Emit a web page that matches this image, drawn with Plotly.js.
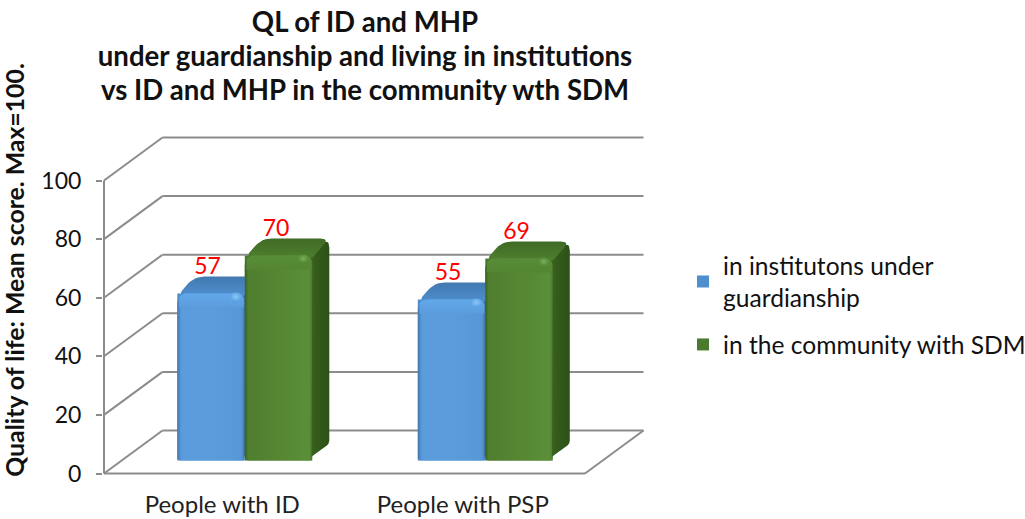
<!DOCTYPE html>
<html><head><meta charset="utf-8">
<script src="https://cdn.plot.ly/plotly-3.0.1.min.js"></script>
<style>html,body{margin:0;padding:0;background:#fff}</style></head>
<body><div id="chart" style="width:1025px;height:519px"></div>
<script>
const categories = ["People with ID", "People with PSP"];
const categoryPositions = [0.5, 1.5];
const institutionValues = [57, 55];
const communityValues = [70, 69];
const seriesNames = ["in institutons under<br>guardianship", "in the community with SDM"];
const yTicks = [0, 20, 40, 60, 80, 100];
const titleLines = ["QL of ID and MHP", "under guardianship and living in institutions", "vs ID and MHP in the community wth SDM"];
const yTitle = "Quality of life: Mean score. Max=100.";

const FONT = "Lato, Carlito, Calibri, sans-serif";
const W = 1025, H = 519;
const PXX = 240.5, PXY = 2.93;
const x0px = 104, y0px = 473.5;
const plotL = 103, plotR = 645, plotT = 62, plotB = 478;
const xr = [(plotL - x0px) / PXX, (plotR - x0px) / PXX];
const yr = [(y0px - plotB) / PXY, (y0px - plotT) / PXY];
const wallDX = 58.5 / PXX, wallDY = 43 / PXY;
const frontDepth = 0.3;
const bx = v => v / PXX, by = v => v / PXY;
const baseVal = frontDepth * wallDY;
const barW = bx(67.5);
const groupShift = frontDepth * wallDX + bx(3);
const GRID = "#8c8c8c";

const shapes = [];
function seg(a, b, w) {
  shapes.push({type:"line", xref:"x", yref:"y", layer:"below", x0:a[0], y0:a[1], x1:b[0], y1:b[1],
    line:{color:GRID, width:w || 2}});
}
const xEnd = 2;
yTicks.forEach(t => {
  seg([0, t], [wallDX, t + wallDY]);
  seg([wallDX, t + wallDY], [xEnd + wallDX, t + wallDY]);
});
seg([0, 0], [0, 100]);
seg([0, 0], [xEnd, 0]);
seg([xEnd, 0], [xEnd + wallDX, wallDY]);

function rounded(pts, radii) {
  const out = [[], []];
  const n = pts.length;
  pts.forEach((p, i) => {
    const r = Array.isArray(radii) ? radii[i] : radii;
    const a = pts[(i + n - 1) % n], b = pts[(i + 1) % n];
    const pxd = (q, s) => {
      const dx = (s[0] - q[0]) * PXX, dy = (s[1] - q[1]) * PXY;
      return Math.sqrt(dx * dx + dy * dy) || 1;
    };
    if (!r) { out[0].push(p[0]); out[1].push(p[1]); return; }
    const ta = Math.min(r / pxd(p, a), 0.5), tb = Math.min(r / pxd(p, b), 0.5);
    const s = [p[0] + (a[0] - p[0]) * ta, p[1] + (a[1] - p[1]) * ta];
    const e = [p[0] + (b[0] - p[0]) * tb, p[1] + (b[1] - p[1]) * tb];
    for (let k = 0; k <= 6; k++) {
      const u = k / 6;
      out[0].push((1-u)*(1-u)*s[0] + 2*u*(1-u)*p[0] + u*u*e[0]);
      out[1].push((1-u)*(1-u)*s[1] + 2*u*(1-u)*p[1] + u*u*e[1]);
    }
  });
  out[0].push(out[0][0]); out[1].push(out[1][0]);
  return out;
}
function face(poly, gradient) {
  return {type:"scatter", mode:"lines", x:poly[0], y:poly[1], fill:"toself",
    line:{width:0, color:"rgba(0,0,0,0)"}, fillgradient:gradient, hoverinfo:"skip", showlegend:false,
    cliponaxis:false};
}
function grad(type, stops) { return {type:type, colorscale:stops}; }

const palette = [
  {front:[[0,"#4377ae"],[0.06,"#5a9bdc"],[0.5,"#5c9cdb"],[0.95,"#5797d6"],[1,"#3f74ab"]],
   top:[[0,"#4f8ecd"],[1,"#4279b0"]], side:[[0,"#3d6f9f"],[1,"#2e5985"]],
   bevel:[[0,"#5c9cdb"],[1,"#62a8ea"]], spot:"#8cc8f2"},
  {front:[[0,"#38611f"],[0.05,"#4f7f2f"],[0.55,"#568733"],[0.95,"#5a8f38"],[1,"#4a7a2c"]],
   top:[[0,"#4e7f2e"],[1,"#3f6a25"]], side:[[0,"#3f6a25"],[0.5,"#33591b"],[1,"#2f5118"]],
   bevel:[[0,"#558532"],[1,"#578e38"]], spot:"#7cad5c"}
];

const overlays = [];
function addBar(cx, v, pal) {
  const l = cx - barW, r = cx;
  const bot = baseVal, top = baseVal + v;
  const dx = bx(17), dy = by(17);
  overlays.push(face(rounded([[r - bx(6), top + by(1)], [r + dx, top + dy], [r + dx, bot + dy], [r - bx(6), bot]], [0, 9, 3, 0]),
    grad("horizontal", pal.side)));
  overlays.push(face(rounded([[l, top - by(2)], [l + dx, top + dy], [r + dx, top + dy], [r, top - by(2)]], [9, 10, 9, 0]),
    grad("vertical", pal.top)));
  overlays.push(face(rounded([[l, bot], [l, top], [r, top], [r, bot]], [3, 10, 8, 3]),
    grad("horizontal", pal.front)));
  overlays.push(face(rounded([[l + bx(1.5), top - by(14)], [l + bx(1.5), top], [r - bx(1), top], [r - bx(1), top - by(14)]], [0, 9, 7, 0]),
    grad("vertical", pal.bevel)));
  overlays.push(face(rounded([[r - bx(14), top - by(7)], [r - bx(14), top + by(1)], [r - bx(4), top + by(1)], [r - bx(4), top - by(7)]], 4),
    {type:"radial", colorscale:[[0, pal.spot],[1, pal.bevel[1][1]]]}));
}
const centers = categoryPositions.map(c => c + groupShift);
centers.forEach((c, i) => addBar(c, institutionValues[i], palette[0]));
centers.forEach((c, i) => addBar(c + barW, communityValues[i], palette[1]));

const bars = [
  {type:"bar", name:seriesNames[0], legendgroup:"a", x:centers, y:institutionValues,
   base:institutionValues.map(() => baseVal), marker:{color:"#4f8fcf"}, hoverinfo:"y"},
  {type:"bar", name:seriesNames[1], legendgroup:"b", x:centers, y:communityValues,
   base:communityValues.map(() => baseVal), marker:{color:"#4a7a2c"}, hoverinfo:"y"}
];
const labelLift = by(25);
const labels = {type:"scatter", mode:"text", showlegend:false, hoverinfo:"skip", cliponaxis:false,
  x:[...centers.map(c => c - barW / 2 - bx(3.5)), ...centers.map(c => c + barW / 2 - bx(2.5))],
  y:[...institutionValues, ...communityValues].map(v => baseVal + v + labelLift),
  text:[...institutionValues, ...communityValues].map(String),
  textposition:"middle center", textfont:{family:FONT, size:23, color:"#ff0000"}};

const layout = {
  width:W, height:H, paper_bgcolor:"#fff", plot_bgcolor:"rgba(0,0,0,0)",
  font:{family:FONT, color:"#1a1a1a", size:24},
  margin:{l:plotL, r:W - plotR, t:plotT, b:H - plotB, pad:0},
  barmode:"group", bargap:1 - 2 * barW, bargroupgap:0,
  title:{text:titleLines.map(s => '<span style="font-size:27.6px">' + s + '</span>').join("<br>"),
    font:{family:FONT, size:26, color:"#111", weight:700},
    x:365 / W, xanchor:"center", y:1 - 32 / H, yanchor:"middle"},
  xaxis:{type:"linear", range:xr, tickmode:"array", tickvals:categoryPositions.map(c => c - bx(2)), ticktext:categories,
    showgrid:false, zeroline:false, showline:false, ticks:"", ticklabelstandoff:10,
    tickfont:{family:FONT, size:24, color:"#222"}, fixedrange:true},
  yaxis:{range:yr, tickmode:"array", tickvals:yTicks, showgrid:false, zeroline:false, showline:false,
    ticks:"outside", ticklen:6, tickwidth:2, tickcolor:GRID, ticklabelstandoff:10,
    tickfont:{family:FONT, size:23, color:"#111"}, fixedrange:true,
    title:{text:yTitle, standoff:13, font:{family:FONT, size:24.8, color:"#111", weight:700}}},
  legend:{xref:"container", yref:"container", x:683 / W, xanchor:"left", y:1 - 243 / H, yanchor:"top",
    font:{family:FONT, size:24.6, color:"#111"}, traceorder:"grouped",
    bgcolor:"rgba(0,0,0,0)", itemclick:false, itemdoubleclick:false, tracegroupgap:12},
  showlegend:true, shapes:shapes
};
Plotly.newPlot("chart", [...bars, ...overlays, labels], layout, {displayModeBar:false, staticPlot:true});
</script></body></html>
